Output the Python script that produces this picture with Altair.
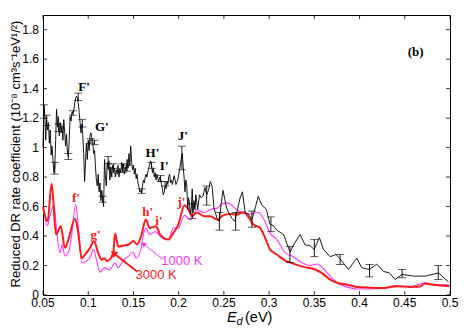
import altair as alt
import pandas as pd

# ---------------- data ----------------
exp_E = [0.0500,0.0510,0.0520,0.0530,0.0540,0.0550,0.0560,0.0570,0.0580,0.0590,
         0.0600,0.0610,0.0620,0.0630,0.0640,0.0650,0.0660,0.0670,0.0680,0.0690,
         0.0700,0.0710,0.0720,0.0730,0.0740,0.0750,0.0760,0.0770,0.0780,0.0790,
         0.0800,0.0810,0.0820,0.0830,0.0840,0.0850,0.0860,0.0870,0.0880,0.0890,
         0.0900,0.0910,0.0920,0.0930,0.0940,0.0950,0.0960,0.0970,0.0980,0.0990,
         0.1000,0.1010,0.1020,0.1030,0.1040,0.1050,0.1060,0.1070,0.1080,0.1090,
         0.1100,0.1110,0.1120,0.1130,0.1140,0.1150,0.1160,0.1170,0.1180,0.1190,
         0.1200,0.1210,0.1220,0.1230,0.1240,0.1250,0.1260,0.1270,0.1280,0.1290,
         0.1300,0.1310,0.1320,0.1330,0.1340,0.1350,0.1360,0.1370,0.1380,0.1390,
         0.1400,0.1410,0.1420,0.1430,0.1440,0.1450,0.1460,0.1470,0.1480,0.1490,
         0.1500,0.1510,0.1520,0.1530,0.1540,0.1550,0.1560,0.1570,0.1580,0.1590,
         0.1600,0.1610,0.1620,0.1630,0.1640,0.1650,0.1660,0.1670,0.1680,0.1690,
         0.1700,0.1710,0.1720,0.1730,0.1740,0.1750,0.1760,0.1770,0.1780,0.1790,
         0.1800,0.1810,0.1820,0.1830,0.1840,0.1850,0.1860,0.1870,0.1880,0.1890,
         0.1900,0.1910,0.1920,0.1930,0.1950,0.1970,0.1990,0.2010,0.2030,0.2040,
         0.2050,0.2060,0.2070,0.2080,0.2090,0.2100,0.2110,0.2120,0.2130,0.2140,
         0.2150,0.2160,0.2170,0.2180,0.2190,0.2200,0.2210,0.2230,0.2250,0.2270,
         0.2290,0.2310,0.2330,0.2350,0.2370,0.2390,0.2410,0.2430,0.2450,0.2470,
         0.2490,0.2510,0.2530,0.2560,0.2590,0.2620,0.2650,0.2680,0.2705,0.2735,
         0.2770,0.2810,0.2850,0.2880,0.2920,0.2970,0.3010,0.3050,0.3085,0.3160,
         0.3232,0.3270,0.3343,0.3398,0.3450,0.3498,0.3556,0.3600,0.3675,0.3740,
         0.3785,0.3877,0.3970,0.4024,0.4110,0.4190,0.4265,0.4330,0.4394,0.4470,
         0.4597,0.4726,0.4873,0.4984]
exp_V = [1.00,1.29,1.22,1.05,1.19,1.12,1.17,1.03,1.12,0.95,
         1.01,0.92,0.83,0.86,1.05,1.26,1.14,1.21,1.08,1.17,
         1.10,1.15,1.05,1.19,1.10,1.01,1.09,0.97,0.94,1.05,
         1.21,1.18,1.24,1.23,1.25,1.30,1.33,1.35,1.34,1.30,
         1.24,1.17,1.10,1.16,1.08,0.96,0.77,0.90,1.03,0.92,
         1.05,0.98,1.08,1.10,1.07,1.04,0.96,0.98,0.87,0.78,
         0.74,0.82,0.70,0.76,0.64,0.71,0.65,0.60,0.92,0.80,
         0.74,0.90,0.85,0.91,0.78,0.87,0.80,0.88,0.83,0.86,
         0.80,0.85,0.82,0.88,0.80,0.86,0.83,0.90,0.84,0.89,
         0.82,0.87,0.84,0.92,0.86,0.96,0.88,1.01,0.90,0.85,
         0.88,0.82,0.86,0.79,0.82,0.76,0.74,0.70,0.71,0.69,
         0.74,0.78,0.76,0.80,0.82,0.80,0.84,0.86,0.89,0.91,
         0.88,0.83,0.86,0.80,0.83,0.78,0.82,0.79,0.77,0.80,
         0.79,0.75,0.72,0.68,0.70,0.74,0.72,0.77,0.75,0.80,
         0.82,0.76,0.78,0.75,0.81,0.75,0.78,0.85,0.93,0.96,
         0.87,0.80,0.70,0.78,0.74,0.58,0.66,0.62,0.55,0.60,
         0.72,0.56,0.64,0.58,0.68,0.63,0.58,0.68,0.66,0.67,
         0.73,0.68,0.71,0.77,0.74,0.59,0.55,0.51,0.50,0.62,
         0.71,0.65,0.59,0.55,0.52,0.50,0.58,0.66,0.70,0.56,
         0.55,0.51,0.60,0.67,0.61,0.58,0.48,0.47,0.44,0.41,
         0.29,0.34,0.41,0.34,0.336,0.31,0.39,0.31,0.26,0.275,
         0.245,0.173,0.25,0.185,0.173,0.21,0.16,0.15,0.105,0.14,
         0.128,0.128,0.15,0.088]

err_E  = [0.051,0.054,0.063,0.067,0.078,0.083,0.089,0.0935,0.103,0.107,
          0.116,0.122,0.128,0.138,0.143,0.159,0.170,0.180,0.185,0.2035,
          0.215,0.231,0.245,0.263,0.281,0.302,0.323,0.350,0.3785,0.411,
          0.447,0.487]
err_lo = [1.20,1.15,0.82,1.11,0.92,1.22,1.32,1.14,1.03,1.02,
          0.63,0.89,0.86,0.83,0.84,0.69,0.86,0.77,0.74,0.85,
          0.52,0.61,0.44,0.44,0.46,0.43,0.22,0.26,0.207,0.123,
          0.117,0.105]
err_hi = [1.29,1.22,0.90,1.16,0.96,1.25,1.37,1.19,1.06,1.05,
          0.67,0.94,0.89,0.89,0.88,0.72,0.90,0.81,0.77,1.01,
          0.62,0.74,0.56,0.56,0.57,0.53,0.33,0.376,0.275,0.207,
          0.173,0.20]

t3000_E = [0.050,0.055,0.0596,0.0644,0.0696,0.0743,0.078,0.0854,0.089,0.0928,
           0.096,0.102,0.1064,0.111,0.1147,0.118,0.1206,0.1236,0.1278,0.1296,
           0.1333,0.139,0.145,0.150,0.154,0.159,0.1636,0.168,0.175,0.1795,
           0.1886,0.194,0.1997,0.2063,0.211,0.2147,0.220,0.228,0.235,0.243,
           0.249,0.2569,0.264,0.2716,0.277,0.2826,0.290,0.2956,0.3011,0.3085,
           0.3177,0.3269,0.338,0.351,0.358,0.3675,0.375,0.386,0.397,0.412,
           0.427,0.441,0.456,0.467,0.472,0.481,0.4995]
t3000_V = [0.60,0.50,0.756,0.41,0.466,0.32,0.376,0.517,0.42,0.25,
           0.27,0.32,0.365,0.286,0.24,0.25,0.23,0.24,0.29,0.417,
           0.327,0.336,0.343,0.366,0.343,0.41,0.512,0.455,0.466,0.41,
           0.376,0.42,0.478,0.609,0.58,0.535,0.56,0.535,0.535,0.51,
           0.54,0.55,0.545,0.561,0.53,0.478,0.455,0.388,0.308,0.275,
           0.234,0.213,0.191,0.173,0.15,0.105,0.083,0.071,0.055,0.05,
           0.048,0.06,0.055,0.058,0.078,0.07,0.06]

t1000_E = [0.050,0.055,0.057,0.0622,0.065,0.0688,0.071,0.0743,0.078,0.0815,
           0.0862,0.089,0.0928,0.098,0.1024,0.1057,0.1094,0.113,0.118,0.1235,
           0.1296,0.133,0.1392,0.144,0.1496,0.153,0.157,0.1636,0.168,0.174,
           0.181,0.1886,0.194,0.1997,0.2063,0.213,0.220,0.228,0.235,0.243,
           0.248,0.254,0.266,0.277,0.288,0.2937,0.3011,0.3085,0.3177,0.327,
           0.336,0.345,0.353,0.360,0.3675,0.375,0.386,0.397,0.412,0.427,
           0.441,0.456,0.472,0.485,0.4995]
t1000_V = [0.60,0.47,0.52,0.61,0.44,0.286,0.34,0.265,0.286,0.398,
           0.614,0.466,0.217,0.23,0.26,0.31,0.23,0.155,0.186,0.17,
           0.217,0.186,0.24,0.26,0.29,0.25,0.286,0.455,0.41,0.43,
           0.39,0.376,0.455,0.455,0.54,0.51,0.58,0.56,0.58,0.59,
           0.62,0.625,0.57,0.55,0.56,0.52,0.42,0.376,0.288,0.26,
           0.22,0.20,0.21,0.18,0.128,0.083,0.055,0.041,0.041,0.046,
           0.064,0.055,0.083,0.07,0.07]

peak_labels = ["F'", "G'", "H'", "I'", "J'"]
peak_E = [0.0953, 0.115, 0.171, 0.184, 0.2045]
peak_V = [1.41, 1.14, 0.964, 0.873, 1.077]

thr_labels = ["f'", "g'", "h'", "i'", "j'"]
thr_E = [0.0865, 0.108, 0.1658, 0.178, 0.203]
thr_V = [0.659, 0.41, 0.564, 0.505, 0.632]

x_ticks = [0.05, 0.1, 0.15, 0.2, 0.25, 0.3, 0.35, 0.4, 0.45, 0.5]
x_tick_labels = ["0.05", "0.1", "0.15", "0.2", "0.25", "0.3", "0.35", "0.4", "0.45", "0.5"]
y_ticks = [0, 0.2, 0.4, 0.6, 0.8, 1.0, 1.2, 1.4, 1.6, 1.8]
y_tick_labels = ["0", "0.2", "0.4", "0.6", "0.8", "1", "1.2", "1.4", "1.6", "1.8"]

y_title = "Reduced DR rate coefficient (10⁻⁸ cm³s⁻¹eV¹/²)"

W, H = 407, 280
RED = "#ff1a1a"
MAG = "#ff33ff"

exp_df = pd.DataFrame({"E": exp_E, "V": exp_V})
err_df = pd.DataFrame({"E": err_E, "lo": err_lo, "hi": err_hi})
t3_df = pd.DataFrame({"E": t3000_E, "V": t3000_V})
t1_df = pd.DataFrame({"E": t1000_E, "V": t1000_V})
pk_df = pd.DataFrame({"E": peak_E, "V": peak_V, "t": peak_labels})
th_df = pd.DataFrame({"E": thr_E, "V": thr_V, "t": thr_labels})

xs = alt.Scale(domain=[0.05, 0.5], nice=False, zero=False)
ys = alt.Scale(domain=[0, 1.9], nice=False, zero=True)

X = alt.X("E:Q", scale=xs, axis=None)
Y = alt.Y("V:Q", scale=ys, axis=None)

t1_line = alt.Chart(t1_df).mark_line(color=MAG, strokeWidth=1.1, interpolate="monotone").encode(x=X, y=Y)
t3_line = alt.Chart(t3_df).mark_line(color=RED, strokeWidth=2, interpolate="monotone").encode(x="E:Q", y="V:Q")
exp_line = alt.Chart(exp_df).mark_line(color="black", strokeWidth=0.9).encode(x="E:Q", y="V:Q")

err_rule = alt.Chart(err_df).mark_rule(color="black", strokeWidth=0.9).encode(x="E:Q", y="lo:Q", y2="hi:Q")
cap_lo = alt.Chart(err_df).mark_tick(color="black", orient="horizontal", size=8, thickness=0.9).encode(x="E:Q", y="lo:Q")
cap_hi = alt.Chart(err_df).mark_tick(color="black", orient="horizontal", size=8, thickness=0.9).encode(x="E:Q", y="hi:Q")

pk_text = alt.Chart(pk_df).mark_text(font="Liberation Serif", fontWeight="bold", fontSize=13,
                                     color="black").encode(x="E:Q", y="V:Q", text="t:N")
th_text = alt.Chart(th_df).mark_text(font="Liberation Serif", fontWeight="bold", fontSize=13,
                                     color=RED).encode(x="E:Q", y="V:Q", text="t:N")

b_df = pd.DataFrame({"E": [0.462], "V": [1.646], "t": ["(b)"]})
b_text = alt.Chart(b_df).mark_text(font="Liberation Serif", fontWeight="bold", fontSize=13,
                                   color="black").encode(x="E:Q", y="V:Q", text="t:N")

lab_df = pd.DataFrame({"E": [0.2035, 0.175], "V": [0.234, 0.139], "t": ["1000 K", "3000 K"],
                       "c": ["m", "r"]})
lab_text = alt.Chart(lab_df).mark_text(font="Liberation Sans", fontSize=13, align="center").encode(
    x="E:Q", y="V:Q", text="t:N",
    color=alt.Color("c:N", scale=alt.Scale(domain=["m", "r"], range=[MAG, RED]), legend=None))

arr_m = pd.DataFrame({"E": [0.183], "V": [0.241], "E2": [0.1609], "V2": [0.347]})
arr_r = pd.DataFrame({"E": [0.1537], "V": [0.161], "E2": [0.1278], "V2": [0.285]})
am_line = alt.Chart(arr_m).mark_rule(color=MAG, strokeWidth=1).encode(x="E:Q", y="V:Q", x2="E2:Q", y2="V2:Q")
ar_line = alt.Chart(arr_r).mark_rule(color=RED, strokeWidth=2).encode(x="E:Q", y="V:Q", x2="E2:Q", y2="V2:Q")
am_head = alt.Chart(arr_m).mark_point(shape="triangle-up", filled=True, size=30, angle=308,
                                      color=MAG, opacity=1).encode(x="E2:Q", y="V2:Q")
ar_head = alt.Chart(arr_r).mark_point(shape="triangle-up", filled=True, size=55, angle=308,
                                      color=RED, opacity=1).encode(x="E2:Q", y="V2:Q")

# inward ticks and tick labels
xt_df = pd.DataFrame({"E": x_ticks, "t": x_tick_labels})
yt_df = pd.DataFrame({"V": y_ticks, "t": y_tick_labels})
xt_bot = alt.Chart(xt_df).mark_rule(color="black", strokeWidth=0.8).encode(x="E:Q", y=alt.value(H), y2=alt.value(H - 4))
xt_top = alt.Chart(xt_df).mark_rule(color="black", strokeWidth=0.8).encode(x="E:Q", y=alt.value(0), y2=alt.value(4))
yt_l = alt.Chart(yt_df).mark_rule(color="black", strokeWidth=0.8).encode(y="V:Q", x=alt.value(0), x2=alt.value(4))
yt_r = alt.Chart(yt_df).mark_rule(color="black", strokeWidth=0.8).encode(y="V:Q", x=alt.value(W), x2=alt.value(W - 4))

xlab = alt.Chart(xt_df).mark_text(font="Liberation Sans", fontSize=12, color="black",
                                  align="center", baseline="top").encode(
    x="E:Q", y=alt.value(H + 3), text="t:N")
ylab = alt.Chart(yt_df).mark_text(font="Liberation Sans", fontSize=12, color="black",
                                  align="right", baseline="middle").encode(
    y="V:Q", x=alt.value(-4), text="t:N")

ytitle = alt.Chart(pd.DataFrame({"t": [y_title]})).mark_text(
    font="Liberation Sans", fontSize=13, color="black", angle=270,
    align="center", baseline="middle").encode(x=alt.value(-27), y=alt.value(139), text="t:N")

xt_E = alt.Chart(pd.DataFrame({"t": ["E"]})).mark_text(font="Liberation Sans", fontStyle="italic",
                                                        fontSize=14.5, align="left", baseline="alphabetic").encode(
    x=alt.value(184), y=alt.value(306.5), text="t:N")
xt_d = alt.Chart(pd.DataFrame({"t": ["d"]})).mark_text(font="Liberation Sans", fontStyle="italic",
                                                        fontSize=11, align="left", baseline="alphabetic").encode(
    x=alt.value(193.5), y=alt.value(310), text="t:N")
xt_eV = alt.Chart(pd.DataFrame({"t": ["(eV)"]})).mark_text(font="Liberation Sans",
                                                           fontSize=14.5, align="left", baseline="alphabetic").encode(
    x=alt.value(202), y=alt.value(306.5), text="t:N")

chart = alt.layer(
    t1_line, t3_line, exp_line, err_rule, cap_lo, cap_hi,
    pk_text, th_text, b_text, lab_text, am_line, ar_line, am_head, ar_head,
    xt_bot, xt_top, yt_l, yt_r, xlab, ylab, ytitle, xt_E, xt_d, xt_eV
).properties(
    width=W, height=H,
    autosize=alt.AutoSizeParams(type="none"),
    padding={"left": 35, "top": 7, "right": 12, "bottom": 35},
).configure_view(
    stroke="black", strokeWidth=1
)

chart.save("out.html", embed_options={"renderer": "svg", "actions": False})
